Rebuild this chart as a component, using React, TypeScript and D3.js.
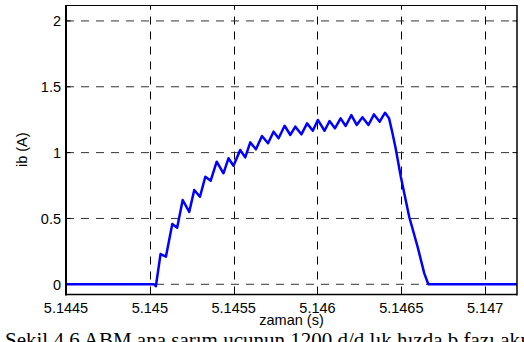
import React from "react";
import * as d3 from "d3";

// Phase-b current of the motor over one conduction interval
const timeS = [
  5.1445, 5.145025, 5.145036,
  5.145064, 5.145096, 5.145134, 5.145163, 5.145196, 5.145235,
  5.145265, 5.145299, 5.145331, 5.145363, 5.145399, 5.145439,
  5.145469, 5.145499, 5.145539, 5.145569, 5.145599, 5.145633,
  5.145669, 5.145705, 5.145738, 5.145768, 5.145804, 5.145838,
  5.145868, 5.145904, 5.145938, 5.145972, 5.146002, 5.146042,
  5.146072, 5.146104, 5.146138, 5.146168, 5.146202, 5.146234,
  5.146268, 5.146304, 5.146337, 5.146371, 5.146403, 5.146427,
  5.146445, 5.146465, 5.146497, 5.146547, 5.146597, 5.146637,
  5.146661, 5.14719,
];
const currentA = [
  0, 0, -0.015,
  0.23, 0.21, 0.458, 0.43, 0.64, 0.55,
  0.716, 0.665, 0.817, 0.787, 0.931, 0.843,
  0.957, 0.9, 1.02, 0.964, 1.078, 1.025,
  1.126, 1.071, 1.159, 1.109, 1.204, 1.134,
  1.197, 1.139, 1.222, 1.166, 1.248, 1.166,
  1.24, 1.185, 1.26, 1.202, 1.285, 1.21,
  1.268, 1.21, 1.29, 1.235, 1.303, 1.26,
  1.16, 1.04, 0.817, 0.513, 0.285, 0.083,
  0, 0,
];

const xTicks = [5.1445, 5.145, 5.1455, 5.146, 5.1465, 5.147];
const xTickLabels = ["5.1445", "5.145", "5.1455", "5.146", "5.1465", "5.147"];
const yTicks = [0, 0.5, 1, 1.5, 2];
const yTickLabels = ["0", "0.5", "1", "1.5", "2"];

const xDomain: [number, number] = [5.1445, 5.14719];
const yDomain: [number, number] = [-0.0775, 2.121];

const W = 524;
const H = 342;
const left = 66;
const right = 517;
const top = 5;
const bottom = 294.5;
const tickLen = 4.5;
const sans = "Arial, 'Liberation Sans', sans-serif";

export default function App() {
  const x = d3.scaleLinear().domain(xDomain).range([left, right]);
  const y = d3.scaleLinear().domain(yDomain).range([bottom, top]);

  const pts: [number, number][] = timeS.map((t, i) => [t, currentA[i]]);
  const path = d3
    .line<[number, number]>()
    .x((d) => x(d[0]))
    .y((d) => y(d[1]))(pts) as string;

  return (
    <svg
      width={W}
      height={H}
      viewBox={`0 0 ${W} ${H}`}
      style={{ position: "absolute", left: 0, top: 0, background: "#fff" }}
    >
      <rect x={0} y={0} width={W} height={H} fill="#fff" />
      <defs>
        <clipPath id="plotArea">
          <rect x={left} y={top} width={right - left} height={bottom - top} />
        </clipPath>
      </defs>

      {/* grid */}
      <g stroke="#000" strokeWidth={1} strokeDasharray="8,7" fill="none">
        {xTicks.slice(1).map((t) => {
          const px = Math.round(x(t)) + 0.5;
          return <line key={`vx${t}`} x1={px} x2={px} y1={bottom} y2={top} />;
        })}
        {yTicks.map((v) => {
          const py = y(v);
          return <line key={`hy${v}`} x1={left} x2={right} y1={py} y2={py} stroke="#333" />;
        })}
      </g>

      {/* ticks, inward on all four sides */}
      <g stroke="#000" strokeWidth={1}>
        {xTicks.map((t) => {
          const px = Math.round(x(t)) + 0.5;
          return (
            <g key={`tx${t}`}>
              <line x1={px} x2={px} y1={bottom} y2={bottom - tickLen} />
              <line x1={px} x2={px} y1={top} y2={top + tickLen} />
            </g>
          );
        })}
        {yTicks.map((v) => {
          const py = y(v);
          return (
            <g key={`ty${v}`}>
              <line x1={left} x2={left + tickLen} y1={py} y2={py} />
              <line x1={right} x2={right - tickLen} y1={py} y2={py} />
            </g>
          );
        })}
      </g>

      {/* signal */}
      <path
        d={path}
        fill="none"
        stroke="#0000ff"
        strokeWidth={2.5}
        strokeLinejoin="round"
        clipPath="url(#plotArea)"
      />

      {/* axes box */}
      <g stroke="#000" fill="none">
        <line x1={left} x2={right} y1={top + 0.5} y2={top + 0.5} strokeWidth={1} />
        <line x1={left} x2={left} y1={top} y2={bottom + 1} strokeWidth={2} />
        <line x1={right} x2={right} y1={top} y2={bottom + 1} strokeWidth={1.5} />
        <line x1={left - 1} x2={right} y1={bottom} y2={bottom} strokeWidth={1.5} />
      </g>

      {/* tick labels */}
      <g fontFamily={sans} fontSize={14.5} fill="#000">
        {xTicks.map((t, i) => (
          <text key={`lx${t}`} x={x(t)} y={312.5} textAnchor="middle">
            {xTickLabels[i]}
          </text>
        ))}
        {yTicks.map((v, i) => (
          <text key={`ly${v}`} x={left - 5} y={y(v)} dy="0.36em" textAnchor="end">
            {yTickLabels[i]}
          </text>
        ))}
      </g>

      {/* axis titles */}
      <text
        x={(left + right) / 2}
        y={325}
        textAnchor="middle"
        fontFamily={sans}
        fontSize={14.5}
        fill="#000"
      >
        zaman (s)
      </text>
      <text
        transform={`translate(27, ${(top + bottom) / 2}) rotate(-90)`}
        textAnchor="middle"
        fontFamily={sans}
        fontSize={14.5}
        fill="#000"
      >
        ib (A)
      </text>

      {/* figure caption, running past the bottom edge */}
      <text
        x={5}
        y={347}
        fontFamily="'Times New Roman', 'Liberation Serif', serif"
        fontSize={21}
        fill="#000"
      >
        Şekil 4.6 ABM ana sarım ucunun 1200 d/d lık hızda b fazı akımı
      </text>
    </svg>
  );
}
